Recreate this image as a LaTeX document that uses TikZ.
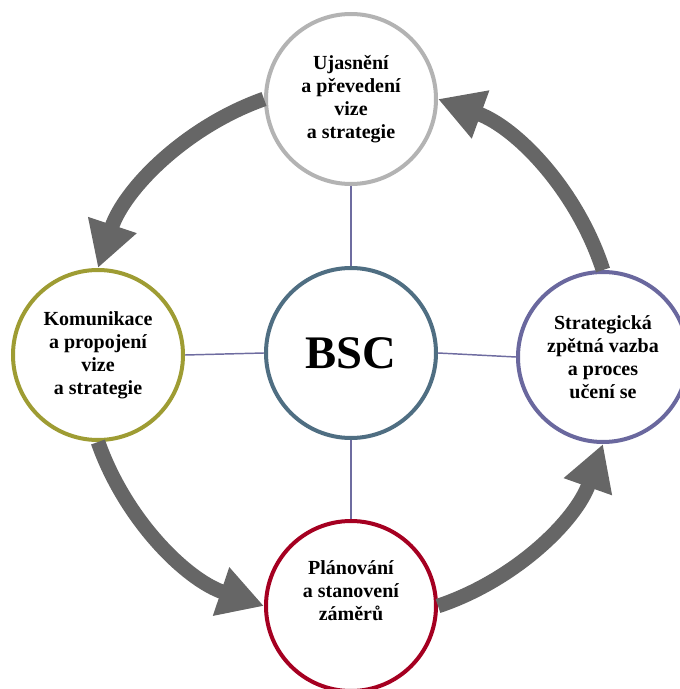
\documentclass[tikz,border=0pt]{standalone}
\usepackage{fontspec}
\setmainfont{Liberation Serif}
\usetikzlibrary{arrows.meta}
\definecolor{visiongray}{HTML}{B3B3B3}
\definecolor{commolive}{HTML}{9E9C33}
\definecolor{bscslate}{HTML}{4F6E82}
\definecolor{feedbackblue}{HTML}{6A689E}
\definecolor{plancrimson}{HTML}{A50021}
\definecolor{spokeblue}{HTML}{6E6CA0}
\definecolor{flowgray}{HTML}{666666}
\begin{document}
\begin{tikzpicture}[x=0.75pt, y=0.75pt,
    ring/.style={circle, draw, line width=3pt, minimum size=127.5pt, inner sep=0pt,
        align=center, fill=white, font=\bfseries\fontsize{15}{17.25}\selectfont},
    spoke/.style={draw=spokeblue, line width=1.1pt},
    flow/.style={draw=flowgray, line width=11pt, looseness=0.9,
        -{Triangle[length=34pt, width=36pt]}}]
    \useasboundingbox (-351,-336) rectangle (329,353);

    % Draw centre
    \node[ring, draw=bscslate, font=\bfseries\fontsize{35}{40}\selectfont] (bsc) at (0,0) {BSC};

    % Draw the four perspectives
    \node[ring, draw=visiongray] (vision) at (0,254) {Ujasnění\\a převedení\\vize\\a strategie};
    \node[ring, draw=commolive] (communicate) at (-253,-2) {Komunikace\\a propojení\\vize\\a strategie};
    \node[ring, draw=plancrimson] (plan) at (0,-253) {Plánování\\a stanovení\\záměrů\\[6pt]};
    \node[ring, draw=feedbackblue] (feedback) at (252,-4) {Strategická\\zpětná vazba\\a proces\\učení se};

    % Draw spokes
    \draw[spoke] (vision.south) -- (bsc.north);
    \draw[spoke] (communicate.east) -- (bsc.west);
    \draw[spoke] (bsc.east) -- (feedback.west);
    \draw[spoke] (bsc.south) -- (plan.north);

    % Draw the cycle
    \draw[flow] (vision.west) to[bend right=26] (communicate.north);
    \draw[flow] (communicate.south) to[bend right=26] (plan.west);
    \draw[flow] (plan.east) to[bend right=26] (feedback.south);
    \draw[flow] (feedback.north) to[bend right=26] (vision.east);
\end{tikzpicture}
\end{document}
